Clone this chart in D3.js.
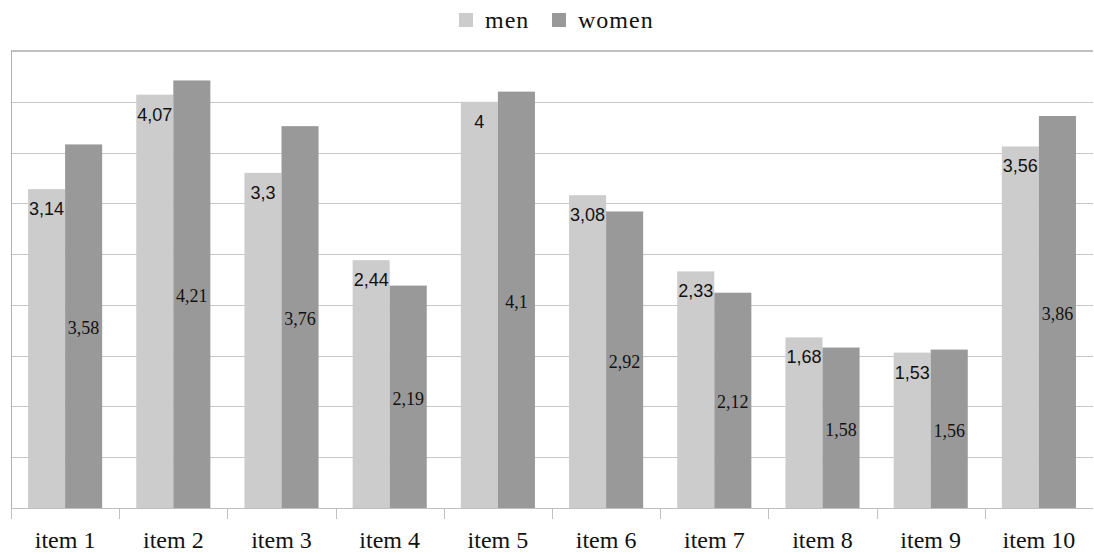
<!DOCTYPE html>
<html><head><meta charset="utf-8">
<script src="https://cdn.jsdelivr.net/npm/d3@7/dist/d3.min.js"></script>
<style>body{margin:0;background:#fff}svg{display:block}
.serif{font-family:'Liberation Serif','Times New Roman',serif}
.sans{font-family:'Liberation Sans',Arial,sans-serif}
</style>
</head><body>
<svg id="c" width="1094" height="554"></svg>
<script>
const categories = ["item 1","item 2","item 3","item 4","item 5","item 6","item 7","item 8","item 9","item 10"];
const menValues = [3.14,4.07,3.3,2.44,4,3.08,2.33,1.68,1.53,3.56];
const womenValues = [3.58,4.21,3.76,2.19,4.1,2.92,2.12,1.58,1.56,3.86];
const seriesNames = ["men","women"];
const yTicks = [0,0.5,1,1.5,2,2.5,3,3.5,4,4.5];

const svg = d3.select("#c");
const L = 11, R = 1093, T = 51, B = 508;
const colors = {men:"#cccccc", women:"#999999"};

const x0 = d3.scaleBand().domain(categories).range([L,R]).paddingInner(0.315).paddingOuter(0.1575);
const x1 = d3.scaleBand().domain(seriesNames).range([0,x0.bandwidth()]);
const y = d3.scaleLinear().domain([0,4.5]).range([B,T]);
const fmt = v => String(v).replace(".", ",");

// gridlines
svg.append("g").selectAll("line").data(yTicks.filter(t=>t>0 && t<4.5)).join("line")
  .attr("x1",L).attr("x2",R).attr("y1",d=>Math.round(y(d))+0.5).attr("y2",d=>Math.round(y(d))+0.5)
  .attr("stroke","#c6c6c6").attr("stroke-width",1);
// top border
svg.append("line").attr("x1",L).attr("x2",R).attr("y1",Math.round(y(4.5))).attr("y2",Math.round(y(4.5)))
  .attr("stroke","#c0c0c0").attr("stroke-width",2);

const data = categories.map((c,i)=>({cat:c, men:menValues[i], women:womenValues[i]}));
const g = svg.append("g").selectAll("g").data(data).join("g")
  .attr("transform",d=>`translate(${x0(d.cat)},0)`);
g.selectAll("rect").data(d=>seriesNames.map(s=>({s, v:d[s]}))).join("rect")
  .attr("x",d=>x1(d.s)).attr("width",x1.bandwidth())
  .attr("y",d=>y(d.v)).attr("height",d=>B-y(d.v))
  .attr("fill",d=>colors[d.s]);

// men labels (inside end)
g.append("text").attr("class","sans").attr("x",x1("men")+x1.bandwidth()/2).attr("y",d=>y(d.men)+26)
  .attr("text-anchor","middle")
  .attr("font-size",18).attr("fill","#111").text(d=>fmt(d.men));
// women labels (center)
g.append("text").attr("class","serif").attr("x",x1("women")+x1.bandwidth()/2).attr("y",d=>(y(d.women)+B)/2+8)
  .attr("text-anchor","middle")
  .attr("font-size",18).attr("fill","#111").text(d=>fmt(d.women));

// x axis
const xAxis = d3.axisBottom(x0).tickSize(0).tickPadding(0);
const ax = svg.append("g").attr("transform",`translate(0,${B})`).call(xAxis);
ax.attr("font-family",null).attr("font-size",null);
ax.select(".domain").remove();
ax.selectAll("text").attr("class","serif").style("font-size","24px").attr("fill","#111").attr("dy",null).attr("y",40);
svg.append("line").attr("x1",L).attr("x2",R).attr("y1",B+0.5).attr("y2",B+0.5).attr("stroke","#c0c0c0");
// boundary ticks
const bounds = categories.map(c=>x0(c)-x0.step()*x0.paddingInner()/2);
svg.append("g").selectAll("line").data(bounds).join("line")
  .attr("x1",d=>Math.round(d)+0.5).attr("x2",d=>Math.round(d)+0.5).attr("y1",B).attr("y2",B+11)
  .attr("stroke","#c0c0c0");
// left axis
svg.append("line").attr("x1",L+0.5).attr("x2",L+0.5).attr("y1",T).attr("y2",B).attr("stroke","#b0b0b0");

// legend
const leg = svg.append("g");
const legX = {men:459, women:552};
seriesNames.forEach(s=>{
  leg.append("rect").attr("x",legX[s]).attr("y",13).attr("width",14).attr("height",14).attr("fill",colors[s]);
  leg.append("text").attr("class","serif").attr("x",legX[s]+26).attr("y",28)
    .attr("font-size",24).attr("fill","#111").style("letter-spacing","1px").text(s);
});
</script>
</body></html>
